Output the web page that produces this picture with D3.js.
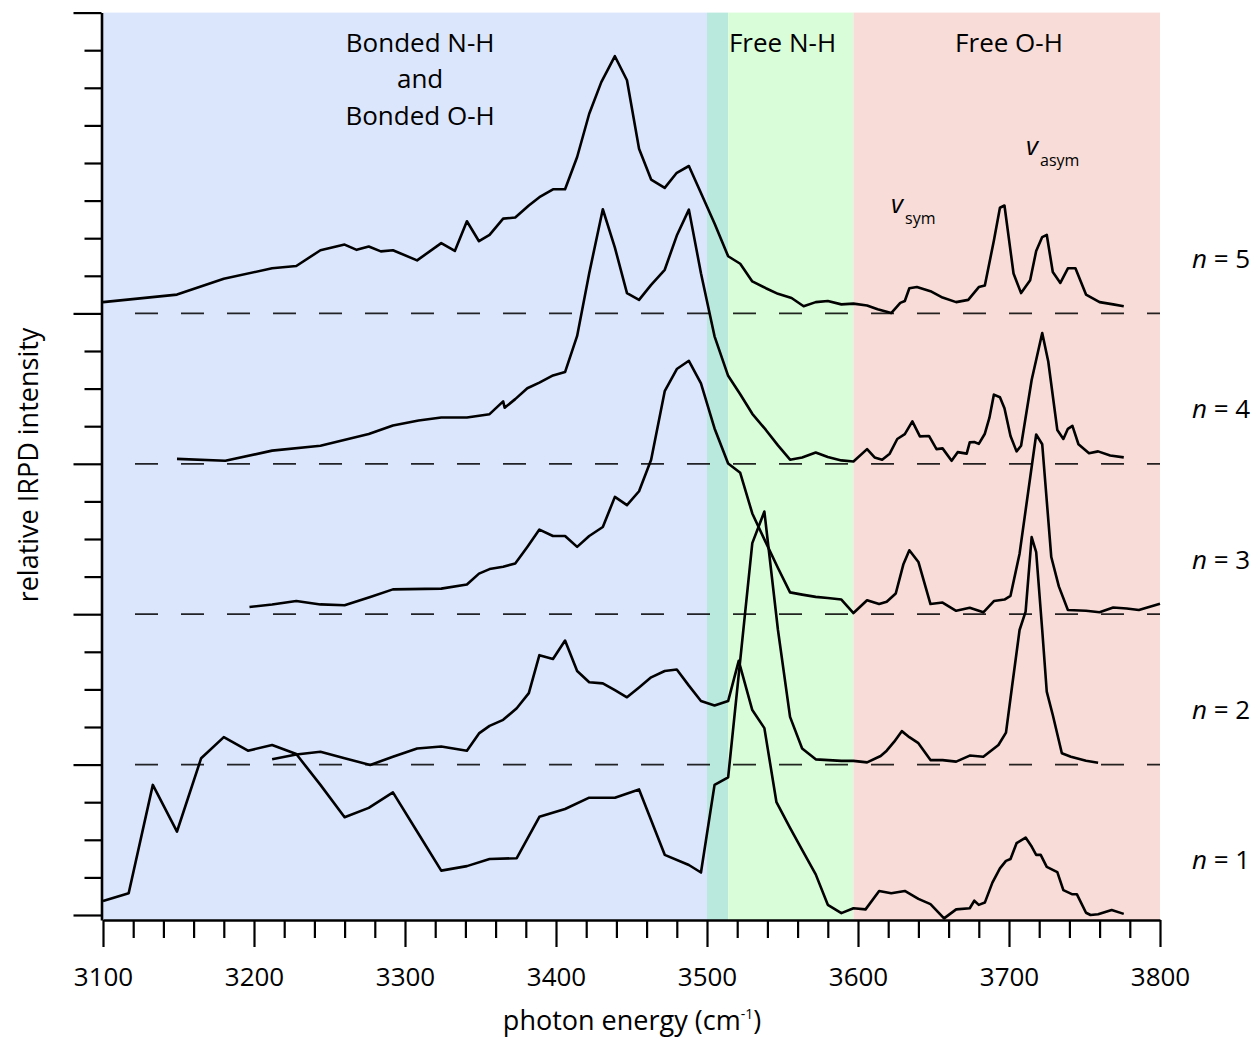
<!DOCTYPE html>
<html>
<head>
<meta charset="utf-8">
<script src="https://cdn.jsdelivr.net/npm/d3@7"></script>
<style>
    body { margin: 0; background: #fff; }
    text { font-family: "Open Sans", sans-serif; fill: #000; }
</style>
</head>
<body>
<div id="chart"></div>
<script>

// ---- data: [photon energy (cm-1), relative intensity above the trace baseline] ----
const n5 = [[3100,0.30],[3149,0.50],[3180,0.92],[3212,1.20],[3228,1.26],[3244,1.68],[3260,1.83],[3268,1.69],[3276,1.78],[3284,1.65],
    [3292,1.68],[3308,1.41],[3324,1.87],[3333,1.66],[3341,2.45],[3349,1.92],[3356,2.09],[3365,2.52],[3373,2.55],[3382,2.87],
    [3389,3.09],[3398,3.30],[3406,3.30],[3414,4.16],[3422,5.31],[3430,6.15],[3439,6.84],[3447,6.20],[3455,4.38],[3463,3.56],
    [3472,3.34],[3480,3.74],[3488,3.92],[3496,3.20],[3505,2.39],[3514,1.52],[3522,1.32],[3530,0.85],[3539,0.67],[3547,0.52],
    [3556,0.41],[3564,0.19],[3572,0.30],[3580,0.33],[3589,0.24],[3597,0.26],[3606,0.21],[3613,0.11],[3622,0.01],[3628,0.28],
    [3631,0.33],[3634,0.67],[3639,0.70],[3648,0.59],[3656,0.42],[3665,0.30],[3673,0.36],[3680,0.70],[3684,0.74],[3690,1.94],
    [3694,2.81],[3697,2.87],[3703,1.06],[3708,0.54],[3714,0.88],[3718,1.66],[3722,2.03],[3725,2.09],[3729,1.10],[3734,0.81],
    [3739,1.20],[3744,1.20],[3751,0.50],[3760,0.30],[3769,0.24],[3776,0.19]];

const n4 = [[3149,0.13],[3181,0.08],[3212,0.35],[3244,0.48],[3276,0.79],[3292,1.02],[3309,1.15],[3324,1.23],[3341,1.23],[3356,1.32],
    [3365,1.66],[3366,1.49],[3373,1.72],[3381,2.01],[3389,2.16],[3398,2.35],[3406,2.44],[3414,3.40],[3422,5.07],[3431,6.77],
    [3439,5.75],[3447,4.54],[3455,4.36],[3463,4.76],[3472,5.16],[3480,6.07],[3488,6.76],[3496,5.07],[3505,3.39],[3514,2.34],
    [3522,1.85],[3530,1.33],[3539,0.90],[3547,0.49],[3555,0.11],[3563,0.17],[3572,0.30],[3580,0.18],[3589,0.09],[3597,0.06],
    [3606,0.39],[3611,0.17],[3616,0.11],[3621,0.27],[3626,0.66],[3631,0.79],[3636,1.13],[3641,0.73],[3647,0.74],[3652,0.39],
    [3656,0.41],[3662,0.08],[3666,0.31],[3672,0.27],[3674,0.57],[3677,0.58],[3680,0.53],[3684,0.80],[3687,1.22],[3690,1.84],
    [3694,1.77],[3697,1.48],[3701,0.74],[3705,0.33],[3708,0.48],[3715,2.23],[3722,3.48],[3726,2.72],[3732,0.90],[3736,0.66],
    [3739,0.93],[3742,1.01],[3746,0.52],[3753,0.28],[3759,0.33],[3767,0.22],[3776,0.17]];

const n3 = [[3197,0.19],[3212,0.26],[3228,0.35],[3244,0.26],[3260,0.24],[3277,0.46],[3292,0.66],[3324,0.68],[3341,0.79],[3349,1.08],
    [3356,1.20],[3365,1.26],[3373,1.35],[3381,1.79],[3389,2.25],[3398,2.08],[3406,2.08],[3414,1.79],[3422,2.08],[3431,2.32],
    [3439,3.12],[3447,2.90],[3455,3.27],[3463,4.11],[3472,5.93],[3480,6.52],[3488,6.74],[3496,6.14],[3505,4.94],[3514,4.01],
    [3522,3.76],[3530,2.68],[3538,1.99],[3547,1.23],[3555,0.58],[3563,0.52],[3572,0.46],[3580,0.43],[3589,0.39],[3597,0.03],
    [3606,0.37],[3614,0.27],[3619,0.33],[3625,0.55],[3630,1.32],[3634,1.70],[3640,1.39],[3648,0.27],[3656,0.31],[3665,0.09],
    [3674,0.17],[3683,0.05],[3690,0.35],[3697,0.39],[3701,0.49],[3707,1.61],[3718,4.78],[3722,4.52],[3728,1.52],[3733,0.74],
    [3739,0.11],[3751,0.09],[3760,0.05],[3769,0.18],[3778,0.15],[3786,0.11],[3800,0.28]];

const n2 = [[3100,-3.63],[3117,-3.42],[3133,-0.54],[3149,-1.78],[3165,0.17],[3180,0.73],[3196,0.37],[3212,0.52],[3228,0.28],[3244,-0.54],
    [3260,-1.40],[3276,-1.15],[3292,-0.74],[3308,-1.78],[3324,-2.82],[3341,-2.70],[3356,-2.51],[3374,-2.49],[3389,-1.39],[3406,-1.18],
    [3422,-0.88],[3439,-0.88],[3455,-0.66],[3472,-2.40],[3488,-2.67],[3496,-2.87],[3505,-0.54],[3514,-0.34],[3530,5.89],[3538,6.73],
    [3547,3.58],[3555,1.27],[3563,0.43],[3572,0.14],[3589,0.10],[3597,0.10],[3606,0.06],[3615,0.23],[3619,0.37],[3624,0.61],
    [3629,0.89],[3634,0.73],[3640,0.57],[3648,0.12],[3656,0.12],[3665,0.08],[3674,0.24],[3683,0.21],[3693,0.52],[3698,0.85],
    [3702,2.07],[3707,3.58],[3711,4.07],[3715,6.05],[3718,5.65],[3722,3.58],[3725,1.94],[3729,1.32],[3735,0.30],[3741,0.21],
    [3751,0.10],[3759,0.05]];

const n1 = [[3212,4.14],[3228,4.27],[3244,4.34],[3260,4.17],[3277,3.99],[3292,4.21],[3308,4.43],[3324,4.48],[3341,4.37],[3349,4.83],
    [3356,5.03],[3365,5.19],[3374,5.50],[3382,5.90],[3389,6.91],[3398,6.81],[3406,7.30],[3414,6.49],[3422,6.19],[3431,6.16],
    [3439,5.98],[3447,5.79],[3455,6.05],[3463,6.32],[3472,6.49],[3480,6.53],[3488,6.10],[3496,5.69],[3505,5.57],[3514,5.69],
    [3521,6.76],[3530,5.45],[3538,4.97],[3546,3.00],[3555,2.32],[3563,1.73],[3572,1.08],[3580,0.27],[3589,0.05],[3597,0.18],
    [3605,0.15],[3614,0.64],[3622,0.58],[3631,0.64],[3640,0.43],[3648,0.29],[3657,-0.09],[3665,0.15],[3674,0.18],[3677,0.38],
    [3680,0.27],[3684,0.33],[3689,0.86],[3694,1.24],[3698,1.44],[3701,1.49],[3705,1.91],[3711,2.06],[3715,1.82],[3718,1.60],
    [3721,1.60],[3725,1.28],[3732,1.14],[3736,0.66],[3742,0.55],[3745,0.55],[3751,0.06],[3754,0.00],[3759,0.02],[3768,0.13],
    [3776,0.03]];

const traceLabels = ["n = 1", "n = 2", "n = 3", "n = 4", "n = 5"];
const traceOffsets = [0, 4, 8, 12, 16];
const dashedOffsets = [4, 8, 12, 16];

// spectral regions (cm-1); the 3500-3514 sliver is where bonded and free N-H overlap
const regionStart = [3100, 3500, 3514, 3597];
const regionEnd = [3500, 3514, 3597, 3800];
const regionLabels = [["Bonded N-H", "and", "Bonded O-H"], [], ["Free N-H"], ["Free O-H"]];
const regionLabelAt = [3310, null, 3550, 3700];

const xTicks = d3.range(3100, 3801, 20);
const yTicks = d3.range(0, 25);


/* * * * * * * * * * * * * *
*      class IrpdVis        *
* * * * * * * * * * * * * */

class IrpdVis {

    constructor(parentElement) {
        this.parentElement = parentElement;
        this.traces = [n1, n2, n3, n4, n5].map((d, i) => ({
            label: traceLabels[i], offset: traceOffsets[i], values: d
        }));
        this.initVis();
    }

    initVis() {
        let vis = this;

        vis.margin = {top: 12.6, right: 100, bottom: 119, left: 103};
        vis.width = 1260 - vis.margin.left - vis.margin.right;
        vis.height = 1039 - vis.margin.top - vis.margin.bottom;

        vis.svg = d3.select("#" + vis.parentElement).append("svg")
            .attr("width", 1260)
            .attr("height", 1039)
            .append("g")
            .attr("transform", "translate(" + vis.margin.left + "," + vis.margin.top + ")");

        vis.x = d3.scaleLinear()
            .domain([3100, 3800])
            .range([0, vis.width]);

        // one unit = one y tick; baseline of n = 1 sits a little above the x axis
        vis.y = d3.scaleLinear()
            .domain([-0.133, 24])
            .range([vis.height, 0]);

        // background bands
        let bandColors = ["#dbe6fc", "#b9e8dd", "#d9fdd8", "#f7dcd7"];
        vis.svg.selectAll(".band")
            .data(regionStart)
            .enter().append("rect")
            .attr("class", "band")
            .attr("x", (d, i) => vis.x(d))
            .attr("width", (d, i) => vis.x(regionEnd[i]) - vis.x(d))
            .attr("y", 0)
            .attr("height", vis.height)
            .attr("fill", (d, i) => bandColors[i]);

        // region titles
        regionLabels.forEach(function(lines, i) {
            lines.forEach(function(t, j) {
                vis.svg.append("text")
                    .attr("x", vis.x(regionLabelAt[i]))
                    .attr("y", 52 + j * 36.5 - vis.margin.top)
                    .attr("text-anchor", "middle")
                    .style("font-size", "26px")
                    .text(t);
            });
        });

        // dashed baselines
        vis.svg.selectAll(".baseline")
            .data(dashedOffsets)
            .enter().append("line")
            .attr("class", "baseline")
            .attr("x1", vis.x(3100) + 9)
            .attr("x2", vis.x(3800))
            .attr("y1", d => vis.y(d))
            .attr("y2", d => vis.y(d))
            .attr("stroke", "#000")
            .attr("stroke-opacity", 0.85)
            .attr("stroke-width", 1.8)
            .attr("stroke-dasharray", "23 23")
            .attr("stroke-dashoffset", 23);

        // traces
        vis.traces.forEach(function(tr) {
            let line = d3.line()
                .x(d => vis.x(d[0]))
                .y(d => vis.y(d[1] + tr.offset));
            vis.svg.append("path")
                .datum(tr.values)
                .attr("class", "trace")
                .attr("d", line)
                .attr("fill", "none")
                .attr("stroke", "#000")
                .attr("stroke-width", 2.6)
                .attr("stroke-linejoin", "round");

            let lbl = vis.svg.append("text")
                .attr("x", 1192 - vis.margin.left)
                .attr("y", vis.y(tr.offset) - 45.5)
                .style("font-size", "26px");
            lbl.append("tspan").style("font-style", "italic").text(tr.label.slice(0, 1));
            lbl.append("tspan").text(tr.label.slice(1));
        });

        // nu annotations
        let nu = [{x: 1026, y: 155, sub: "asym"}, {x: 891, y: 213, sub: "sym"}];
        nu.forEach(function(d) {
            vis.svg.append("text")
                .attr("x", d.x - vis.margin.left)
                .attr("y", d.y - vis.margin.top)
                .style("font-size", "26px")
                .style("font-style", "italic")
                .text("v");
            vis.svg.append("text")
                .attr("x", d.x + 14 - vis.margin.left)
                .attr("y", d.y + 11.5 - vis.margin.top)
                .style("font-size", "16px")
                .text(d.sub);
        });

        // axes
        vis.xAxis = d3.axisBottom(vis.x)
            .tickValues(xTicks)
            .tickSizeOuter(0)
            .tickFormat(d => d % 100 === 0 ? d : "");

        vis.yAxis = d3.axisLeft(vis.y)
            .tickValues(yTicks)
            .tickSizeOuter(0)
            .tickFormat("");

        let gx = vis.svg.append("g")
            .attr("class", "x-axis axis")
            .attr("transform", "translate(0," + vis.height + ")")
            .call(vis.xAxis);
        gx.select(".domain").attr("stroke-width", 2.6);
        gx.selectAll(".tick line")
            .attr("stroke-width", 2.2)
            .attr("y2", d => d % 100 === 0 ? 27 : 18);
        gx.selectAll(".tick text")
            .attr("y", 66)
            .attr("dy", 0)
            .style("font-size", "26px")
            .style("font-family", "'Open Sans', sans-serif")
            .attr("fill", "#000");

        let gy = vis.svg.append("g")
            .attr("class", "y-axis axis")
            .attr("transform", "translate(-1.5,0)")
            .call(vis.yAxis);
        gy.select(".domain").attr("stroke-width", 2.6);
        gy.selectAll(".tick line")
            .attr("stroke-width", 2.2)
            .attr("x2", d => (d % 4 === 0 && d !== 20) ? -28 : -17);

        // axis titles
        vis.svg.append("text")
            .attr("transform", "translate(" + (38 - vis.margin.left) + "," + (465 - vis.margin.top) + ") rotate(-90)")
            .attr("text-anchor", "middle")
            .style("font-size", "27px")
            .text("relative IRPD intensity");

        let xt = vis.svg.append("text")
            .attr("x", 632 - vis.margin.left)
            .attr("y", 1030 - vis.margin.top)
            .attr("text-anchor", "middle")
            .style("font-size", "27px");
        xt.append("tspan").text("photon energy (cm");
        xt.append("tspan").attr("dy", -11).style("font-size", "14px").text("-1");
        xt.append("tspan").attr("dy", 11).text(")");
    }
}

new IrpdVis("chart");

</script>
</body>
</html>
